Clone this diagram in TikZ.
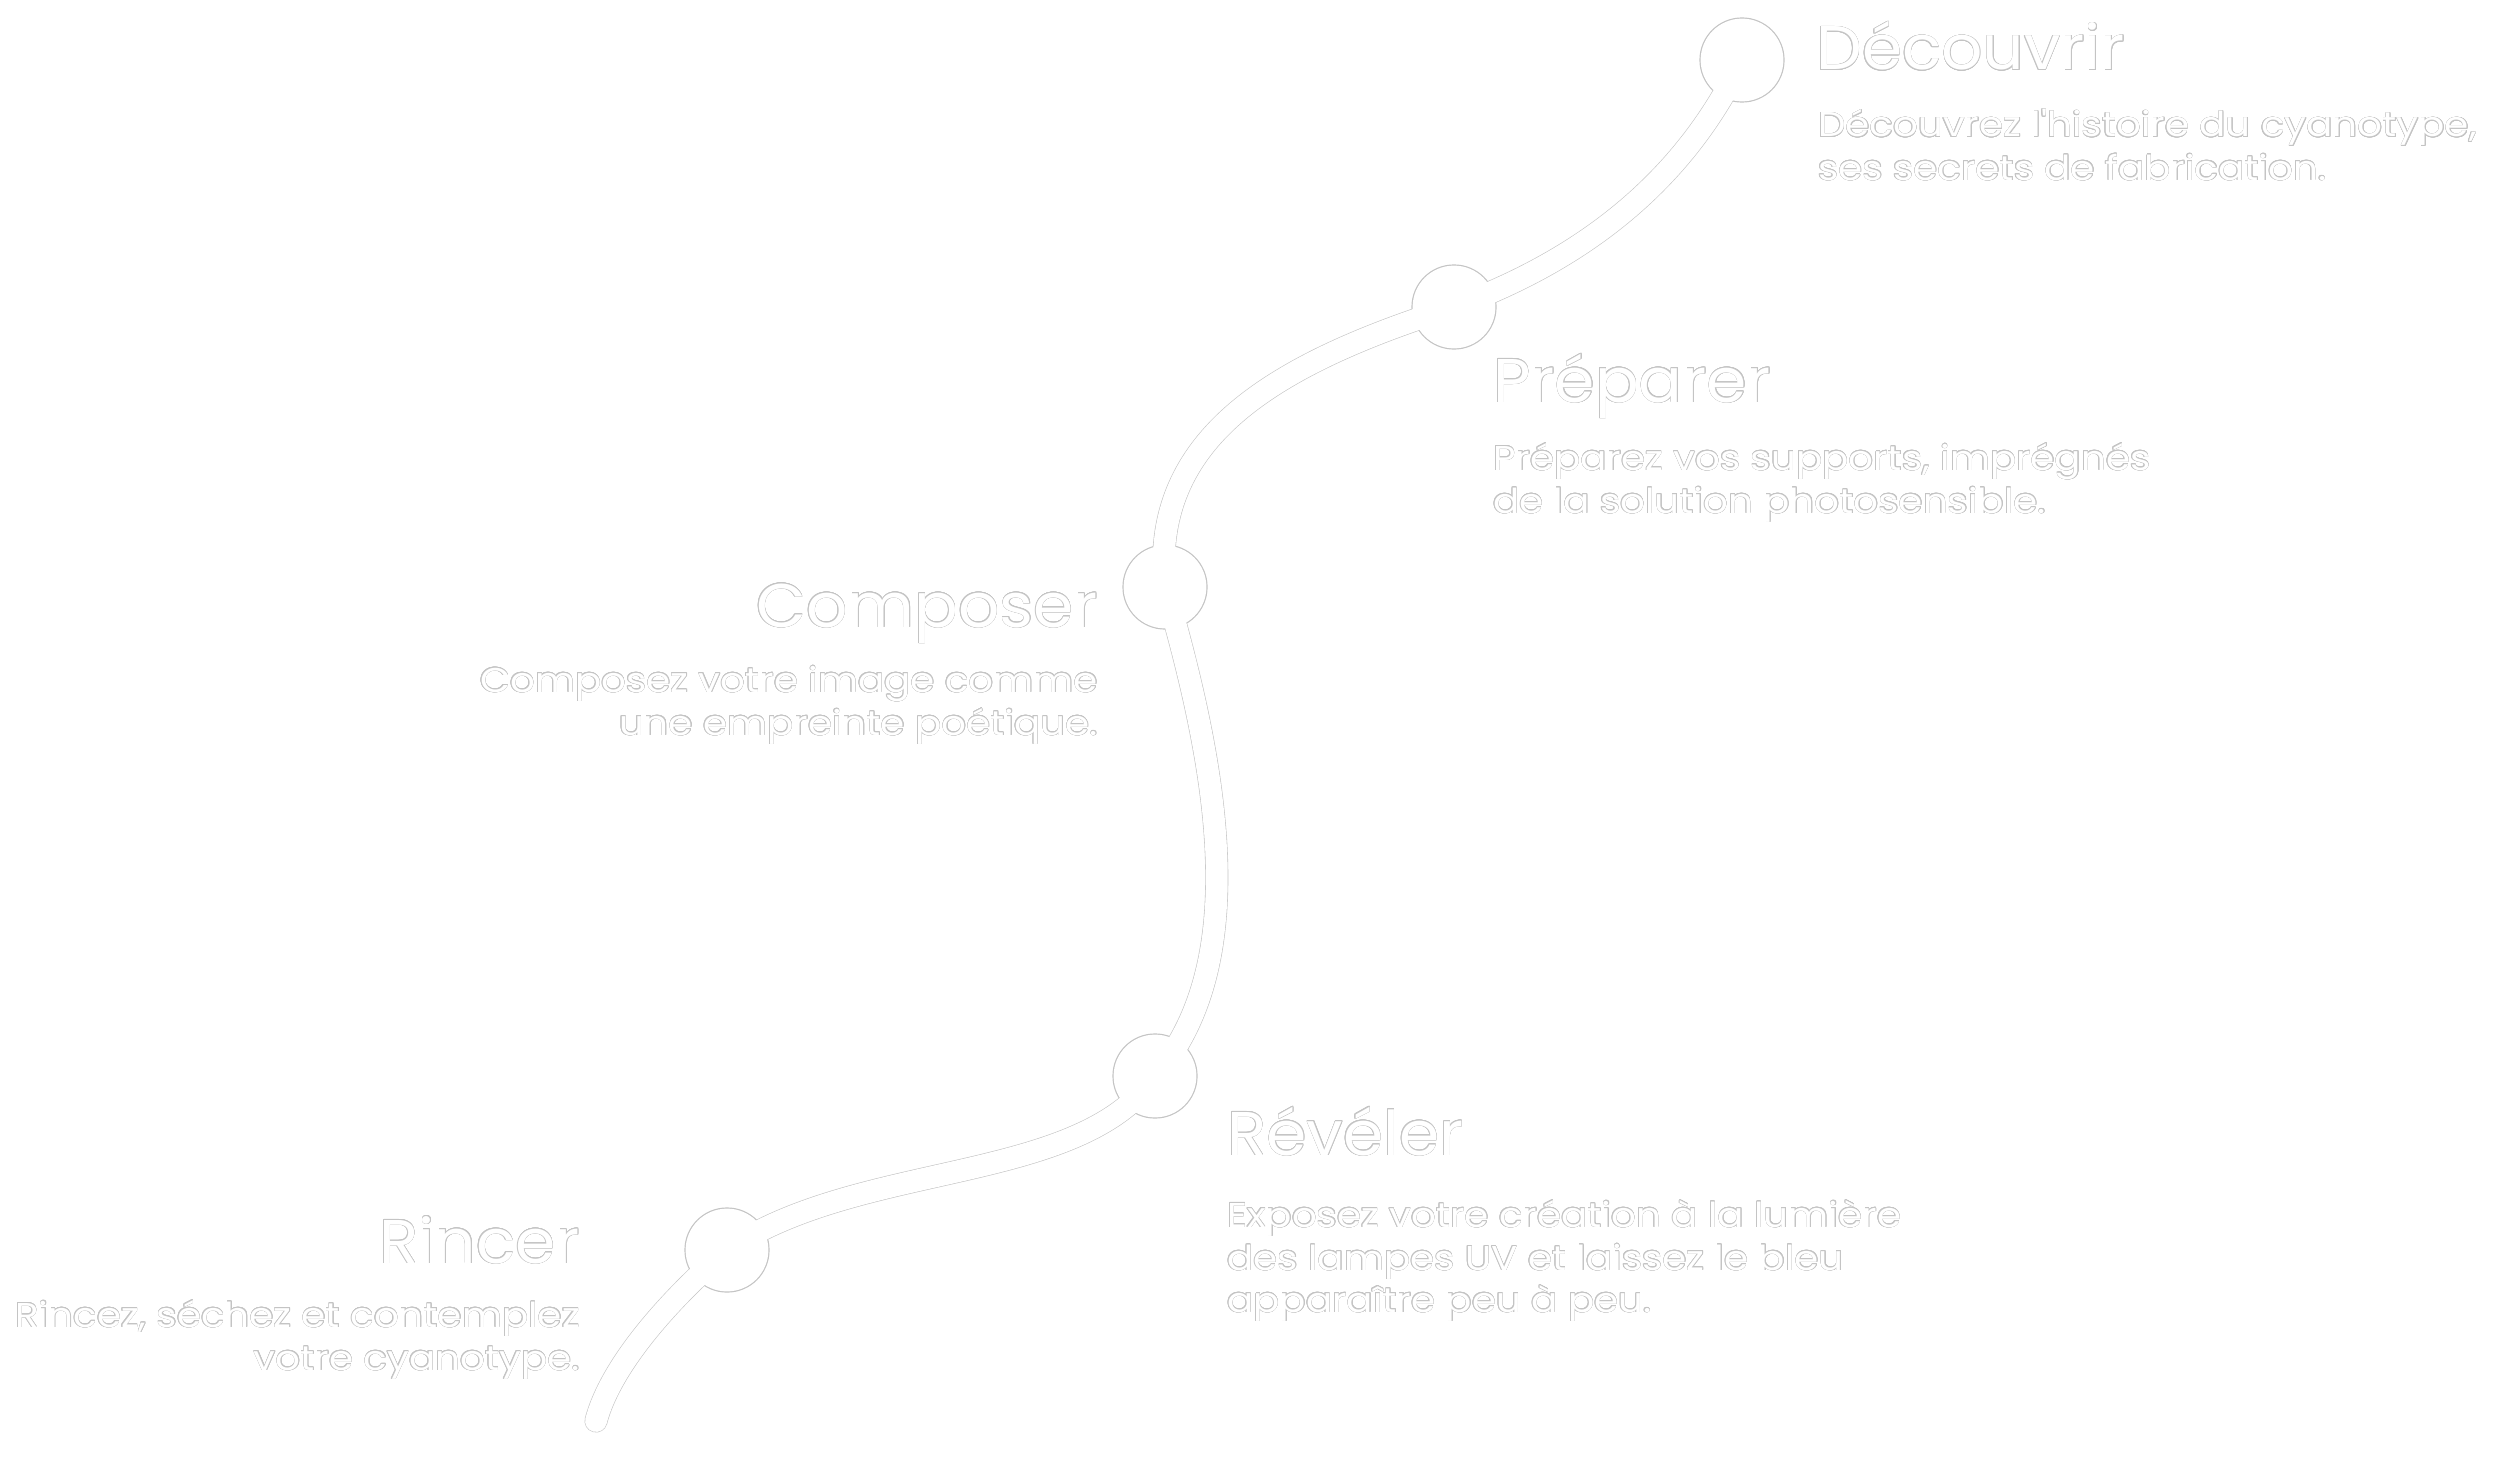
\documentclass[tikz,border=0pt]{standalone}
\usepackage{fontspec}
\usepackage{contour}
\newfontfamily\headfont[FakeStretch=1.05]{Poppins}
\newfontfamily\bodyfont[FakeStretch=1.13]{Poppins}
\definecolor{edgec}{gray}{0.77}
\contourlength{0.5pt}
\contournumber{16}
\tikzset{
  head/.style={font=\headfont\fontsize{61.7}{62}\selectfont, inner sep=0pt, text=white},
  body/.style={font=\bodyfont\fontsize{34.4}{40}\selectfont, inner sep=0pt, text=white},
  stepdot/.style={circle, minimum size=84pt, inner sep=0pt},
  trackout/.style={draw=edgec, line width=23pt, line cap=round},
  trackin/.style={draw=white, line width=21.8pt, line cap=round},
}
\newcommand{\track}[1]{%
  \path[#1] (c1.center) .. controls (1695,158) and (1610,250) .. (c2.center)
        .. controls (1270,365) and (1150,440) .. (c3.center)
        .. controls (1215,760) and (1255,960) .. (c4.center)
        .. controls (1080,1185) and (860,1160) .. (c5.center)
        .. controls (680,1290) and (612,1360) .. (tail);}
\begin{document}
\begin{tikzpicture}[x=1pt,y=-1pt]
\fill[white] (0,0) rectangle (2500,1477);
\useasboundingbox (0,0) rectangle (2500,1477);
% step dots (positions)
\node[stepdot] (c1) at (1742,60) {};
\node[stepdot] (c2) at (1454,307) {};
\node[stepdot] (c3) at (1165,587) {};
\node[stepdot] (c4) at (1155,1076) {};
\node[stepdot] (c5) at (727,1250) {};
\coordinate (tail) at (596,1421);
% outline layer
\track{trackout}
\foreach \c in {c1,c2,c3,c4,c5} \fill[edgec] (\c.center) circle (42.6);
% white layer
\track{trackin}
\foreach \c in {c1,c2,c3,c4,c5} \fill[white] (\c.center) circle (41.4);
% texts
\node[head, anchor=base west] (t1) at (1816,70) {\contour{edgec}{Découvrir}};
\node[body, anchor=base west] (t1a) at (1818,137) {\contour{edgec}{Découvrez l'histoire du cyanotype,}};
\node[body, anchor=base west] (t1b) at (1818,180) {\contour{edgec}{ses secrets de fabrication.}};

\node[head, anchor=base west] (t2) at (1493,402) {\contour{edgec}{Préparer}};
\node[body, anchor=base west] (t2a) at (1493,470) {\contour{edgec}{Préparez vos supports, imprégnés}};
\node[body, anchor=base west] (t2b) at (1493,513) {\contour{edgec}{de la solution photosensible.}};

\node[head, anchor=base east] (t3) at (1098,627) {\contour{edgec}{Composer}};
\node[body, anchor=base east] (t3a) at (1098,692) {\contour{edgec}{Composez votre image comme}};
\node[body, anchor=base east] (t3b) at (1098,735) {\contour{edgec}{une empreinte poétique.}};

\node[head, anchor=base west] (t4) at (1227,1155) {\contour{edgec}{Révéler}};
\node[body, anchor=base west] (t4a) at (1227,1227) {\contour{edgec}{Exposez votre création à la lumière}};
\node[body, anchor=base west] (t4b) at (1227,1270) {\contour{edgec}{des lampes UV et laissez le bleu}};
\node[body, anchor=base west] (t4c) at (1227,1312) {\contour{edgec}{apparaître peu à peu.}};

\node[head, anchor=base east] (t5) at (580,1263) {\contour{edgec}{Rincer}};
\node[body, anchor=base east] (t5a) at (580,1327) {\contour{edgec}{Rincez, séchez et contemplez}};
\node[body, anchor=base east] (t5b) at (580,1370) {\contour{edgec}{votre cyanotype.}};
\end{tikzpicture}
\end{document}
